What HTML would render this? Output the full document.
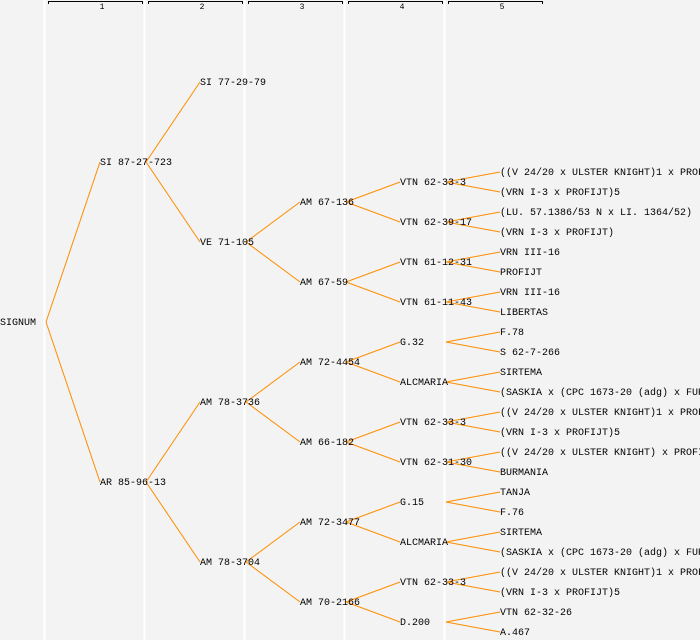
<!DOCTYPE html>
<html><head><meta charset="utf-8"><style>
html,body{margin:0;padding:0;background:#f3f3f3;}
svg{display:block;}
text{font-family:"Liberation Mono",monospace;font-size:10px;fill:#000;}
.h{font-size:8px;}
</style></head><body>
<svg width="700" height="640" viewBox="0 0 700 640" xmlns="http://www.w3.org/2000/svg">
<rect width="700" height="640" fill="#f3f3f3"/>
<g stroke="#fff" stroke-width="2">
<line x1="44.5" y1="0" x2="44.5" y2="640"/><line x1="144.5" y1="0" x2="144.5" y2="640"/><line x1="244.5" y1="0" x2="244.5" y2="640"/><line x1="344.5" y1="0" x2="344.5" y2="640"/><line x1="444.5" y1="0" x2="444.5" y2="640"/>
</g>
<g stroke="#000" stroke-width="1" fill="none">
<path d="M48.5 4V1.5H142.5V4"/><path d="M148.5 4V1.5H242.5V4"/><path d="M248.5 4V1.5H342.5V4"/><path d="M348.5 4V1.5H442.5V4"/><path d="M448.5 4V1.5H542.5V4"/>
</g>
<g class="h" text-anchor="middle">
<text class="h" x="102" y="9">1</text><text class="h" x="202" y="9">2</text><text class="h" x="302" y="9">3</text><text class="h" x="402" y="9">4</text><text class="h" x="502" y="9">5</text>
</g>
<g stroke="#ff8c00" stroke-width="1" fill="none">
<path d="M46 322L100 162M46 322L100 482"/>
<path d="M146 162L200 82M146 162L200 242M146 482L200 402M146 482L200 562"/>
<path d="M246 242L300 202M246 242L300 282M246 402L300 362M246 402L300 442M246 562L300 522M246 562L300 602"/>
<path d="M346 202L400 182M346 202L400 222M346 282L400 262M346 282L400 302M346 362L400 342M346 362L400 382M346 442L400 422M346 442L400 462M346 522L400 502M346 522L400 542M346 602L400 582M346 602L400 622"/>
<path d="M446 182L500 172M446 182L500 192M446 222L500 212M446 222L500 232M446 262L500 252M446 262L500 272M446 302L500 292M446 302L500 312M446 342L500 332M446 342L500 352M446 382L500 372M446 382L500 392M446 422L500 412M446 422L500 432M446 462L500 452M446 462L500 472M446 502L500 492M446 502L500 512M446 542L500 532M446 542L500 552M446 582L500 572M446 582L500 592M446 622L500 612M446 622L500 632"/>
</g>
<g dominant-baseline="central" transform="translate(0,1.5)">
<text x="0" y="322">SIGNUM</text>
<text x="100" y="162">SI 87-27-723</text>
<text x="100" y="482">AR 85-96-13</text>
<text x="200" y="82">SI 77-29-79</text>
<text x="200" y="242">VE 71-105</text>
<text x="200" y="402">AM 78-3736</text>
<text x="200" y="562">AM 78-3704</text>
<text x="300" y="202">AM 67-136</text>
<text x="300" y="282">AM 67-59</text>
<text x="300" y="362">AM 72-4454</text>
<text x="300" y="442">AM 66-182</text>
<text x="300" y="522">AM 72-3477</text>
<text x="300" y="602">AM 70-2166</text>
<text x="400" y="182">VTN 62-33-3</text>
<text x="400" y="222">VTN 62-39-17</text>
<text x="400" y="262">VTN 61-12-31</text>
<text x="400" y="302">VTN 61-11-43</text>
<text x="400" y="342">G.32</text>
<text x="400" y="382">ALCMARIA</text>
<text x="400" y="422">VTN 62-33-3</text>
<text x="400" y="462">VTN 62-31-30</text>
<text x="400" y="502">G.15</text>
<text x="400" y="542">ALCMARIA</text>
<text x="400" y="582">VTN 62-33-3</text>
<text x="400" y="622">D.200</text>
<text x="500" y="172">((V 24/20 x ULSTER KNIGHT)1 x PROFIJT)</text>
<text x="500" y="192">(VRN I-3 x PROFIJT)5</text>
<text x="500" y="212">(LU. 57.1386/53 N x LI. 1364/52)</text>
<text x="500" y="232">(VRN I-3 x PROFIJT)</text>
<text x="500" y="252">VRN III-16</text>
<text x="500" y="272">PROFIJT</text>
<text x="500" y="292">VRN III-16</text>
<text x="500" y="312">LIBERTAS</text>
<text x="500" y="332">F.78</text>
<text x="500" y="352">S 62-7-266</text>
<text x="500" y="372">SIRTEMA</text>
<text x="500" y="392">(SASKIA x (CPC 1673-20 (adg) x FUR</text>
<text x="500" y="412">((V 24/20 x ULSTER KNIGHT)1 x PROFIJT)</text>
<text x="500" y="432">(VRN I-3 x PROFIJT)5</text>
<text x="500" y="452">((V 24/20 x ULSTER KNIGHT) x PROFIJT)</text>
<text x="500" y="472">BURMANIA</text>
<text x="500" y="492">TANJA</text>
<text x="500" y="512">F.76</text>
<text x="500" y="532">SIRTEMA</text>
<text x="500" y="552">(SASKIA x (CPC 1673-20 (adg) x FUR</text>
<text x="500" y="572">((V 24/20 x ULSTER KNIGHT)1 x PROFIJT)</text>
<text x="500" y="592">(VRN I-3 x PROFIJT)5</text>
<text x="500" y="612">VTN 62-32-26</text>
<text x="500" y="632">A.467</text>
</g>
</svg>
</body></html>
